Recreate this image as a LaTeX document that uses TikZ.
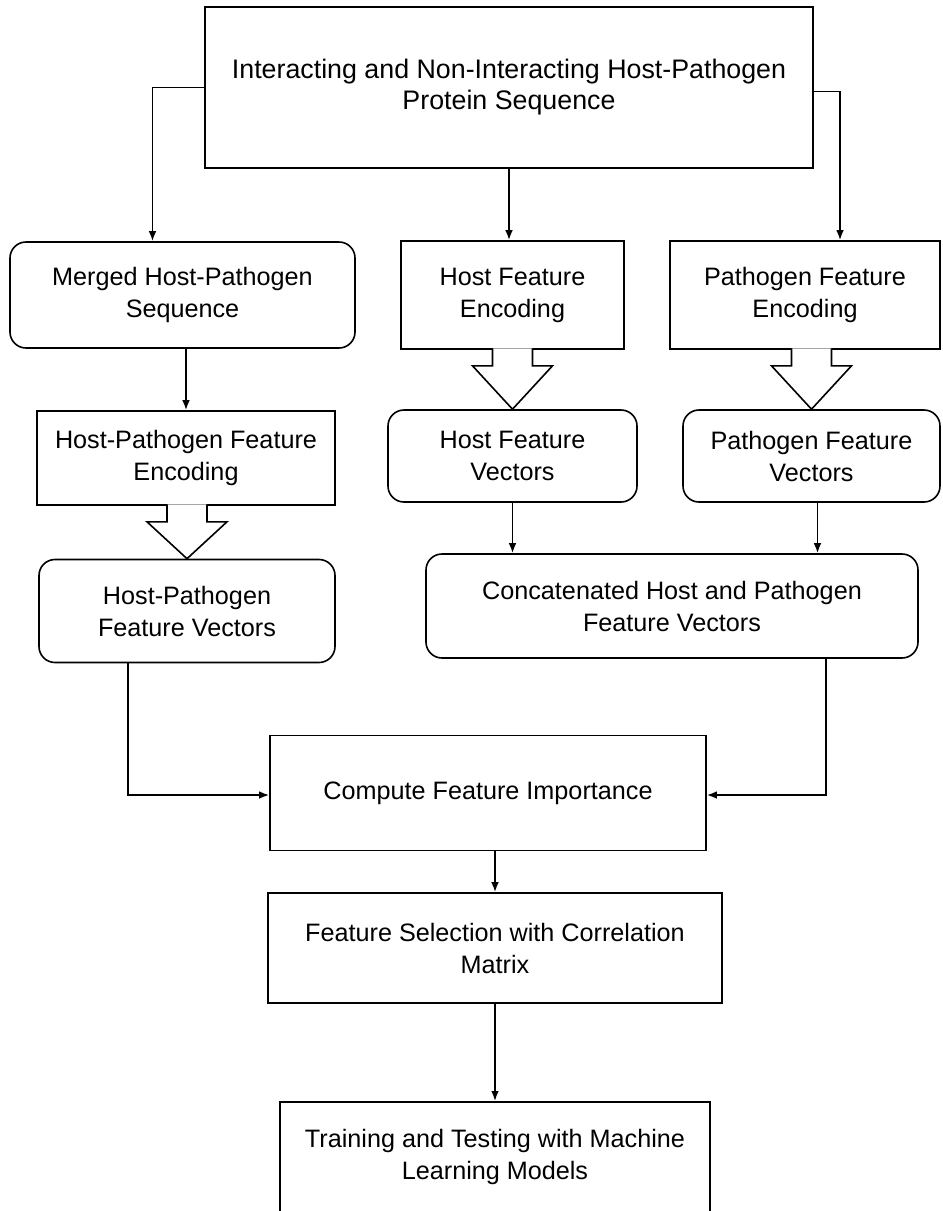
\documentclass[tikz,border=0pt]{standalone}
\usepackage{fontspec}
\setmainfont{Liberation Sans}
\usetikzlibrary{arrows.meta,calc,positioning}
\tikzstyle{plainbox}=[draw, line width=0.8pt, align=center, inner sep=0pt, font=\fontsize{12.6}{16}\selectfont]
\tikzstyle{roundbox}=[plainbox, rounded corners=8pt]
\tikzstyle{boxtext}=[align=center, inner sep=0pt, font=\fontsize{12.6}{16}\selectfont]
\tikzstyle{flow}=[-{Latex[length=5pt,width=3.8pt]}, line width=0.8pt]
\tikzstyle{hollow}=[draw, fill=white, line width=0.8pt, line join=miter]

% hollow block arrow from the bottom of #1 to the top of #2
\newcommand{\hollowarrow}[2]{%
  \draw[hollow] ($(#1.south -| #2.north)+(-20,-1.5)$) -- ++(0,17.5) -- ++(-20,0) -- (#2.north)
     -- ($(#1.south -| #2.north)+(40,16)$) -- ++(-20,0) -- ++(0,-17.5);
}

\begin{document}
\begin{tikzpicture}[x=0.5pt, y=-0.5pt]

  \clip (0,0) rectangle (943,1211);

  \node[plainbox, minimum width=304pt, minimum height=80.5pt, font=\fontsize{13.4}{15.5}\selectfont]
    (top) at (509,87.5) {Interacting and Non-Interacting Host-Pathogen\\Protein Sequence};

  % square boxes
  \foreach \name/\pos/\w/\h/\txt in {
      hfe/{(512.5,295)}/111.5/54/{Host Feature\\Encoding},
      pfe/{(805,295)}/135/54/{Pathogen Feature\\Encoding},
      hpfe/{(186,458)}/149/47/{Host-Pathogen Feature\\Encoding},
      cfi/{(488,793)}/218/57.5/{Compute Feature Importance},
      fs/{(495,948)}/227/55/{Feature Selection with Correlation\\Matrix}}
    \node[plainbox, minimum width=\w pt, minimum height=\h pt] (\name) at \pos {\txt};

  % rounded boxes
  \foreach \name/\pos/\w/\h/\txt in {
      merged/{(182.5,295)}/172.5/53/{Merged Host-Pathogen\\Sequence},
      hfv/{(512.5,456)}/124.5/46/{Host Feature\\Vectors},
      pfv/{(811.5,456)}/128.5/46/{Pathogen Feature\\Vectors},
      hpfv/{(187,611)}/148/51.5/{Host-Pathogen\\Feature Vectors},
      concat/{(672,606)}/246/52/{Concatenated Host and Pathogen\\Feature Vectors}}
    \node[roundbox, minimum width=\w pt, minimum height=\h pt] (\name) at \pos {\txt};

  % last box runs past the page
  \node[plainbox, anchor=north, minimum width=215pt, minimum height=80pt] (train) at (495,1101) {};
  \node[boxtext] (traintext) at ($(train.north)+(0,56)$) {Training and Testing with Machine\\Learning Models};

  \draw[flow] (top.west) -| ([xshift=-15pt]merged.north);
  \draw[flow] ([yshift=-2pt]top.east) -| ([xshift=17.5pt]pfe.north);
  \draw[flow] (top.south) -- (top.south |- hfe.north);
  \draw[flow] (merged.south -| hpfe.north) -- (hpfe.north);
  \draw[flow] (hfv.south) -- (hfv.south |- concat.north);
  \draw[flow] ([xshift=3pt]pfv.south) -- ([xshift=3pt]pfv.south |- concat.north);
  \draw[flow] ([xshift=-29.5pt]hpfv.south) |- ([yshift=-1pt]cfi.west);
  \draw[flow] ([xshift=77pt]concat.south) |- ([yshift=-1pt]cfi.east);
  \draw[flow] (cfi.south -| fs.north) -- (fs.north);
  \draw[flow] (fs.south) -- (train.north);

  \hollowarrow{hfe}{hfv}
  \hollowarrow{pfe}{pfv}
  \hollowarrow{hpfe}{hpfv}

\end{tikzpicture}
\end{document}
